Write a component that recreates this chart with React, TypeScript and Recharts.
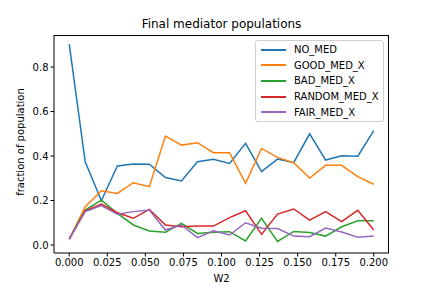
import React from "react";
import { LineChart, Line, XAxis, YAxis } from "recharts";

const w2 = [
  0, 0.0105, 0.0211, 0.0316, 0.0421, 0.0526, 0.0632, 0.0737, 0.0842, 0.0947,
  0.1053, 0.1158, 0.1263, 0.1368, 0.1474, 0.1579, 0.1684, 0.1789, 0.1895, 0.2
];
const noMed = [
  0.903, 0.374, 0.199, 0.355, 0.364, 0.363, 0.303, 0.288, 0.374, 0.385,
  0.367, 0.457, 0.33, 0.386, 0.37, 0.5, 0.382, 0.401, 0.399, 0.514
];
const goodMed = [
  0.026, 0.172, 0.244, 0.232, 0.28, 0.262, 0.49, 0.449, 0.46, 0.415,
  0.415, 0.277, 0.434, 0.394, 0.37, 0.301, 0.358, 0.358, 0.307, 0.273
];
const badMed = [
  0.026, 0.157, 0.202, 0.142, 0.09, 0.063, 0.057, 0.097, 0.052, 0.057,
  0.06, 0.018, 0.12, 0.016, 0.061, 0.056, 0.04, 0.082, 0.109, 0.109
];
const randomMed = [
  0.026, 0.154, 0.184, 0.145, 0.12, 0.16, 0.09, 0.082, 0.085, 0.085,
  0.123, 0.154, 0.048, 0.139, 0.162, 0.112, 0.15, 0.105, 0.156, 0.067
];
const fairMed = [
  0.026, 0.15, 0.177, 0.138, 0.15, 0.157, 0.067, 0.09, 0.033, 0.064,
  0.045, 0.1, 0.075, 0.074, 0.04, 0.037, 0.076, 0.058, 0.035, 0.04
];
const xTicks = [0, 0.025, 0.05, 0.075, 0.1, 0.125, 0.15, 0.175, 0.2];
const yTicks = [0, 0.2, 0.4, 0.6, 0.8];

const series = [
  { key: "NO_MED", values: noMed, color: "#1f77b4" },
  { key: "GOOD_MED_X", values: goodMed, color: "#ff7f0e" },
  { key: "BAD_MED_X", values: badMed, color: "#2ca02c" },
  { key: "RANDOM_MED_X", values: randomMed, color: "#d62728" },
  { key: "FAIR_MED_X", values: fairMed, color: "#9467bd" }
];

const data = w2.map((x, i) => {
  const row: Record<string, number> = { x };
  series.forEach((s) => (row[s.key] = s.values[i]));
  return row;
});

const font = "DejaVu Sans, sans-serif";
const tickStyle = { fontSize: 10, fill: "#000", fontFamily: font };

// plot area in the reference: x 54..389, y 35..253
const LegendBox = () => (
  <div
    style={{
      position: "absolute",
      left: 255,
      top: 40,
      width: 129,
      height: 82,
      border: "1px solid #d0d0d0",
      borderRadius: 3,
      background: "rgba(255,255,255,0.8)",
      padding: "1px 0 0 5px",
      fontFamily: font,
      fontSize: 10,
      boxSizing: "border-box"
    }}
  >
    {series.map((s) => (
      <div key={s.key} style={{ display: "flex", alignItems: "center", height: 15.6 }}>
        <div style={{ width: 25, height: 2, background: s.color, marginRight: 8, flex: "none" }} />
        <span style={{ color: "#000" }}>{s.key}</span>
      </div>
    ))}
  </div>
);

export default function App() {
  return (
    <div style={{ position: "absolute", left: 0, top: 0, width: 432, height: 288, background: "#fff" }}>
      <div
        style={{
          position: "absolute",
          top: 17,
          left: 54,
          width: 335,
          textAlign: "center",
          fontFamily: font,
          fontSize: 12
        }}
      >
        Final mediator populations
      </div>
      <LineChart width={432} height={288} data={data} margin={{ top: 35, right: 43, left: 0, bottom: 0 }}>
        <XAxis
          dataKey="x"
          type="number"
          domain={[-0.01, 0.21]}
          ticks={xTicks}
          allowDataOverflow
          tickFormatter={(v: number) => v.toFixed(3)}
          tick={tickStyle}
          tickSize={3.5}
          tickMargin={2}
          stroke="#000"
          height={35}
          label={{ value: "W2", position: "insideBottom", offset: 6, style: { fontSize: 10, fill: "#000", fontFamily: font } }}
        />
        <YAxis
          type="number"
          domain={[-0.036, 0.944]}
          ticks={yTicks}
          allowDataOverflow
          tickFormatter={(v: number) => v.toFixed(1)}
          tick={tickStyle}
          tickSize={3.5}
          tickMargin={2}
          stroke="#000"
          width={54}
          label={{
            value: "fraction of population",
            angle: -90,
            position: "insideLeft",
            offset: 20,
            dy: -2,
            style: { textAnchor: "middle", fontSize: 10, fill: "#000", fontFamily: font }
          }}
        />
        {series.map((s) => (
          <Line
            key={s.key}
            dataKey={s.key}
            stroke={s.color}
            strokeWidth={1.5}
            dot={false}
            isAnimationActive={false}
          />
        ))}
      </LineChart>
      <div
        style={{
          position: "absolute",
          left: 54,
          top: 35,
          width: 335,
          height: 218,
          borderTop: "1px solid #000",
          borderRight: "1px solid #000",
          boxSizing: "border-box",
          pointerEvents: "none"
        }}
      />
      <LegendBox />
    </div>
  );
}
